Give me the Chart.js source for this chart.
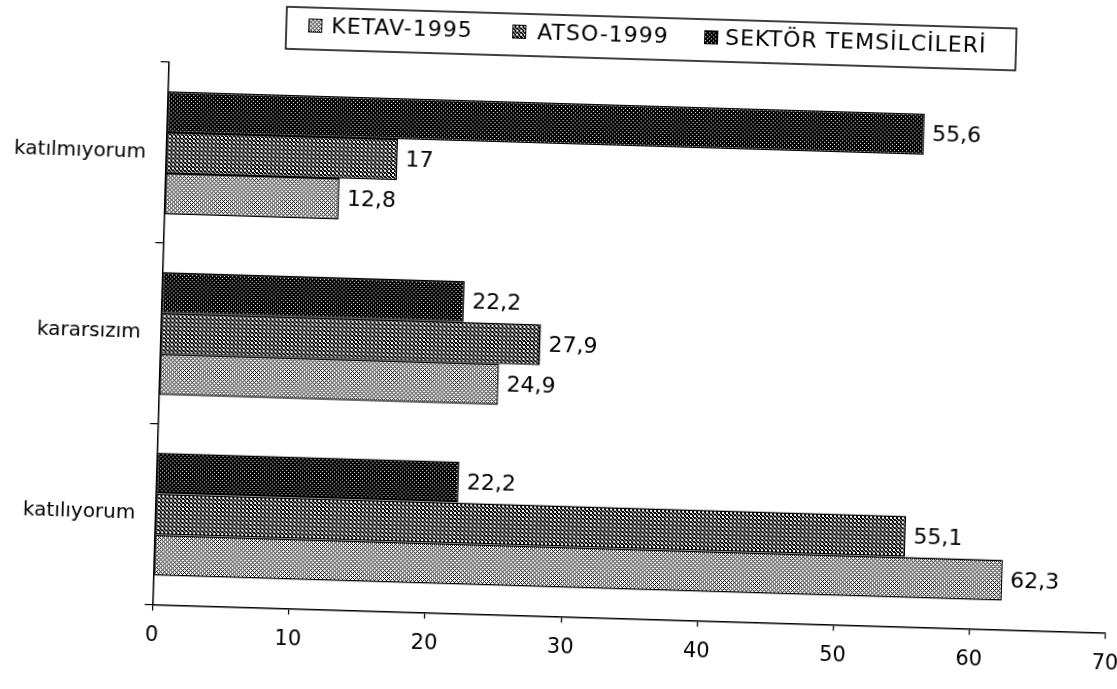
<!DOCTYPE html>
<html>
<head>
<meta charset="utf-8">
<script src="https://cdn.jsdelivr.net/npm/chart.js@4.4.0/dist/chart.umd.min.js"></script>
<style>
  html, body { margin: 0; padding: 0; background: #fff; overflow: hidden; width: 1117px; height: 689px; }
  #wrap { position: absolute; left: 0; top: 0; width: 1160px; height: 720px;
          transform-origin: 558.5px 344.5px; transform: rotate(1.7deg); }
</style>
</head>
<body>
<div id="wrap"><canvas id="c" width="1160" height="720"></canvas></div>
<script>
// ---- data ----
const categories = ['katılıyorum', 'kararsızım', 'katılmıyorum'];
const seriesNames = ['KETAV-1995', 'ATSO-1999', 'SEKTÖR TEMSİLCİLERİ'];
const ketav1995 = [62.3, 24.9, 12.8];
const atso1999 = [55.1, 27.9, 17];
const sektorTemsilcileri = [22.2, 22.2, 55.6];
const xTickMin = 0, xTickMax = 70, xTickStep = 10;

// ---- patterns (scan-like dithering) ----
function makePattern(rows) {
  const n = rows.length;
  const cv = document.createElement('canvas');
  cv.width = n; cv.height = n;
  const cx = cv.getContext('2d');
  cx.fillStyle = '#fff'; cx.fillRect(0, 0, n, n);
  cx.fillStyle = '#000';
  rows.forEach((r, y) => { for (let x = 0; x < n; x++) if (r[x] === '1') cx.fillRect(x, y, 1, 1); });
  return cx.createPattern(cv, 'repeat');
}
const patLight = makePattern(['1010', '0100', '1010', '0001']);
const patMid = makePattern(['0110', '1011', '1101', '0110']);
const patDark = makePattern(['0111', '1111', '1101', '1111']);
const patterns = [patLight, patMid, patDark];

const FONT = "'DejaVu Sans', sans-serif";

const valueLabels = {
  id: 'valueLabels',
  afterDatasetsDraw(chart) {
    const ctx = chart.ctx;
    ctx.save();
    ctx.fillStyle = '#000';
    ctx.font = '22px ' + FONT;
    ctx.textAlign = 'left';
    ctx.textBaseline = 'middle';
    chart.data.datasets.forEach((ds, i) => {
      chart.getDatasetMeta(i).data.forEach((el, j) => {
        const v = ds.data[j];
        ctx.fillText(String(v).replace('.', ','), el.x + 8, el.y + 1);
      });
    });
    ctx.restore();
  }
};

const boxLegend = {
  id: 'boxLegend',
  afterDraw(chart) {
    const ctx = chart.ctx;
    ctx.save();
    ctx.strokeStyle = '#000';
    ctx.lineWidth = 1.5;
    ctx.strokeRect(277, 15, 730, 42);
    const sq = [299, 503, 695];
    const tx = [322, 528, 716];
    ctx.font = '22px ' + FONT;
    ctx.textBaseline = 'middle';
    ctx.textAlign = 'left';
    try { ctx.letterSpacing = '1px'; } catch (e) {}
    seriesNames.forEach((name, i) => {
      ctx.fillStyle = patterns[i];
      ctx.fillRect(sq[i], 26, 14, 14);
      ctx.lineWidth = 1;
      ctx.strokeRect(sq[i] + 0.5, 26.5, 13, 13);
      ctx.fillStyle = '#000';
      ctx.fillText(name, tx[i], 34);
    });
    ctx.restore();
  }
};

new Chart(document.getElementById('c'), {
  type: 'bar',
  data: {
    labels: categories,
    datasets: [
      { label: seriesNames[2], data: sektorTemsilcileri, backgroundColor: patDark },
      { label: seriesNames[1], data: atso1999, backgroundColor: patMid },
      { label: seriesNames[0], data: ketav1995, backgroundColor: patLight }
    ]
  },
  options: {
    indexAxis: 'y',
    responsive: false,
    animation: false,
    devicePixelRatio: 1,
    layout: { padding: { top: 74, left: 0, right: 46, bottom: 43.5 } },
    datasets: {
      bar: {
        borderColor: '#000',
        borderWidth: 1.5,
        borderSkipped: false,
        categoryPercentage: 0.68,
        barPercentage: 1.0
      }
    },
    plugins: {
      legend: { display: false },
      tooltip: { enabled: false }
    },
    scales: {
      x: {
        type: 'linear',
        min: xTickMin, max: xTickMax,
        ticks: { stepSize: xTickStep, color: '#000', font: { size: 21, family: FONT }, padding: 12, maxRotation: 0 },
        grid: { drawOnChartArea: false, color: '#000', tickLength: 6, lineWidth: 1.2 },
        border: { color: '#000', width: 1.5 },
        afterFit(s) { s.height = 60; }
      },
      y: {
        reverse: true,
        ticks: { color: '#000', font: { size: 20, family: FONT }, padding: 12 },
        grid: { drawOnChartArea: false, color: '#000', tickLength: 8, offset: true, lineWidth: 1.2 },
        border: { color: '#000', width: 1.5 },
        afterFit(s) { s.width = 160.5; }
      }
    }
  },
  plugins: [valueLabels, boxLegend]
});
</script>
</body>
</html>
